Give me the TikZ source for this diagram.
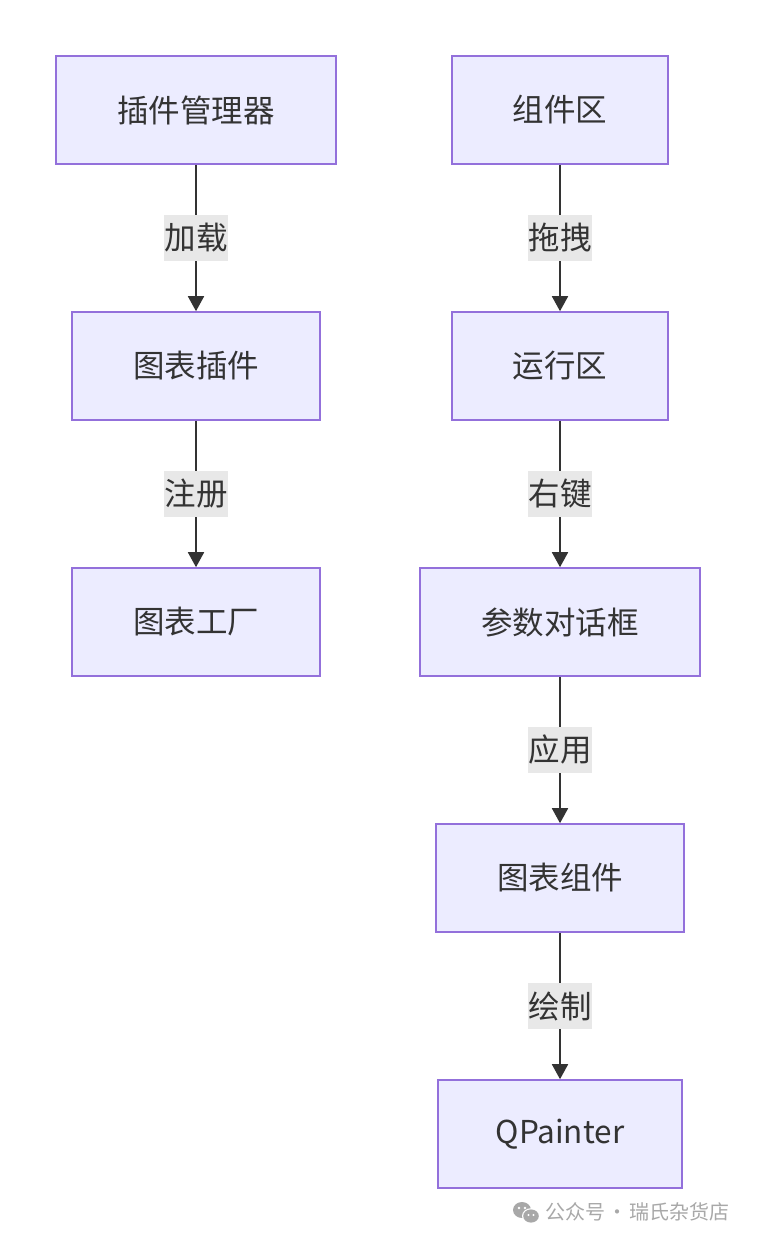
\documentclass[tikz,border=0pt]{standalone}
\usepackage{fontspec}
\setmainfont{Noto Sans CJK SC}
\usetikzlibrary{arrows.meta}
\definecolor{nodefill}{HTML}{ECECFF}
\definecolor{nodeborder}{HTML}{9370DB}
\definecolor{txt}{HTML}{333333}
\definecolor{lblbg}{HTML}{E8E8E8}
\definecolor{wm}{HTML}{A8A8A8}
\tikzset{
  box/.style={draw=nodeborder, fill=nodefill, line width=1.6pt, minimum height=108pt, inner sep=0pt, text=txt, font=\fontsize{31.5}{34}\selectfont},
  conn/.style={draw=txt, line width=1.8pt, -{Triangle[length=15pt,width=16pt]}},
  lbl/.style={fill=lblbg, text=txt, inner xsep=0.5pt, inner ysep=8pt, font=\fontsize{31.5}{34}\selectfont}
}
\begin{document}
\begin{tikzpicture}[x=1pt,y=-1pt]
\useasboundingbox (0,0) rectangle (756,1244);
\fill[white] (0,0) rectangle (756,1244);
% left column
\node[box, minimum width=280pt] (a) at (196,110) {插件管理器};
\node[box, minimum width=248pt] (b) at (196,366) {图表插件};
\node[box, minimum width=248pt] (c) at (196,622) {图表工厂};
% right column
\node[box, minimum width=216pt] (d) at (560,110) {组件区};
\node[box, minimum width=216pt] (e) at (560,366) {运行区};
\node[box, minimum width=280pt] (f) at (560,622) {参数对话框};
\node[box, minimum width=248pt] (g) at (560,878) {图表组件};
\node[box, minimum width=244pt] (h) at (560,1134) {QPainter};
% connectors
\draw[conn] (a) -- node[lbl]{加载} (b);
\draw[conn] (b) -- node[lbl]{注册} (c);
\draw[conn] (d) -- node[lbl]{拖拽} (e);
\draw[conn] (e) -- node[lbl]{右键} (f);
\draw[conn] (f) -- node[lbl]{应用} (g);
\draw[conn] (g) -- node[lbl]{绘制} (h);
% watermark
\fill[wm] (522,1210) ellipse (9pt and 8pt);
\fill[white] (531,1216) ellipse (9pt and 7.8pt);
\fill[wm] (531,1216) ellipse (7.8pt and 6.6pt);
\fill[white] (519,1208) circle (1.3pt) (525,1208) circle (1.3pt);
\fill[white] (528.5,1215) circle (1.1pt) (533.5,1215) circle (1.1pt);
\node[anchor=west, text=wm, inner sep=0pt, font=\fontsize{20}{22}\selectfont] (w) at (545,1212) {公众号\hspace{2pt}·\hspace{2pt}瑞氏杂货店};
\end{tikzpicture}
\end{document}
